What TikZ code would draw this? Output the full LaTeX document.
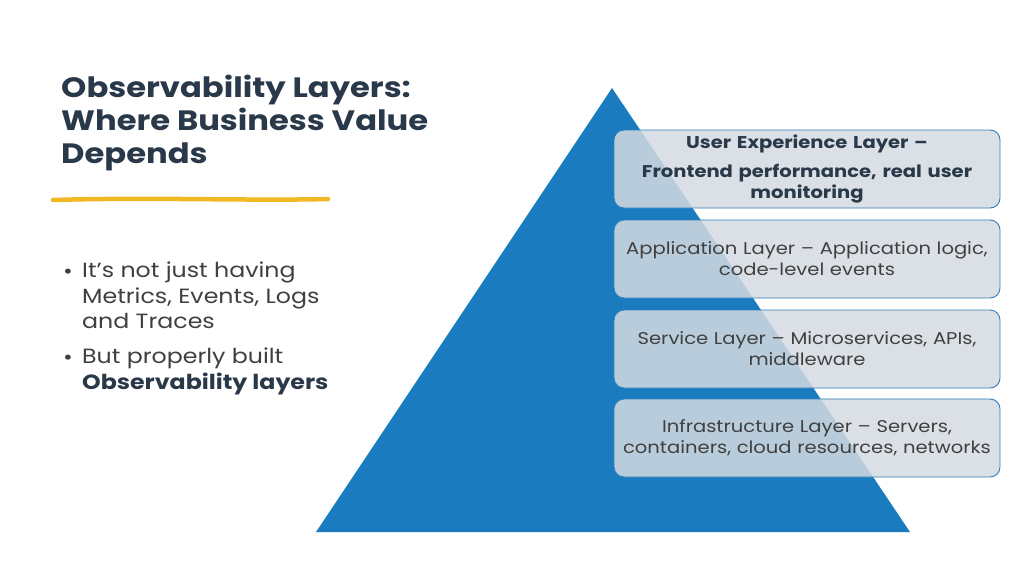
\documentclass[tikz,border=0pt]{standalone}
\usepackage{fontspec}
\setmainfont{Poppins}[FakeStretch=1.15]
\usetikzlibrary{calc,positioning}
\definecolor{slate}{RGB}{42,57,74}
\definecolor{bodygrey}{RGB}{64,64,64}
\definecolor{pyrblue}{RGB}{26,123,190}
\definecolor{boxfill}{RGB}{212,219,225}
\definecolor{boxline}{RGB}{46,125,191}
\definecolor{brush}{RGB}{240,184,35}
\tikzset{
  layer/.style={draw=boxline, line width=0.9pt, fill=boxfill, fill opacity=0.85, text opacity=1,
    rounded corners=10pt, minimum width=386pt, minimum height=78pt, text width=380pt,
    align=center, font=\fontsize{17}{21}\selectfont, text=bodygrey, inner sep=0pt},
  bullettext/.style={anchor=north west, align=left, text=bodygrey, inner sep=0pt,
    font=\fontsize{20.6}{25.5}\selectfont},
  bulletdot/.style={anchor=base east, text=bodygrey, inner sep=0pt, font=\fontsize{20.6}{25.5}\selectfont}
}

\begin{document}
\begin{tikzpicture}[x=1pt, y=-1pt]
    \useasboundingbox[fill=white] (0,0) rectangle (1024,576);
    \coordinate (apex) at (612,88); \coordinate (baseL) at (316,532); \coordinate (baseR) at (910,532);
    \fill[pyrblue] (apex)--(baseL)--(baseR)--cycle;
    \draw[white!85!pyrblue, line width=0.6pt] (baseL)--(baseR);
    % layers
    \node[layer] (ux) at (807,169) {\bfseries\color{slate}User Experience Layer –\\[8pt] Frontend performance, real user\\ monitoring};
    \node[layer] (app) at (807,259) {Application Layer – Application logic,\\ code-level events};
    \node[layer] (svc) at (807,349) {Service Layer – Microservices, APIs,\\ middleware};
    \node[layer] (infra) at (807,438) {Infrastructure Layer – Servers,\\ containers, cloud resources, networks};
    % title
    \node[anchor=north west, align=left, inner sep=0pt, text=slate, font=\fontsize{28}{33}\selectfont\bfseries]
        (title) at (61,75) {Observability Layers:\\ Where Business Value\\ Depends};
    \coordinate (brushL) at (53,200); \coordinate (brushR) at (328,199);
    \draw[brush, line width=4.5pt, line cap=round] (brushL) .. controls (150,197) and (250,201) .. (brushR);
    % bullets
    \node[bullettext] (b1) at (82,262) {It’s not just having\\ Metrics, Events, Logs\\ and Traces};
    \node[bullettext] (b2) at (82,348) {But properly built\\ \textbf{\color{slate}Observability layers}};
    \foreach \b in {b1,b2} {\node[bulletdot] at ($(\b.north west)+(-9,16)$) {•};}
\end{tikzpicture}
\end{document}
